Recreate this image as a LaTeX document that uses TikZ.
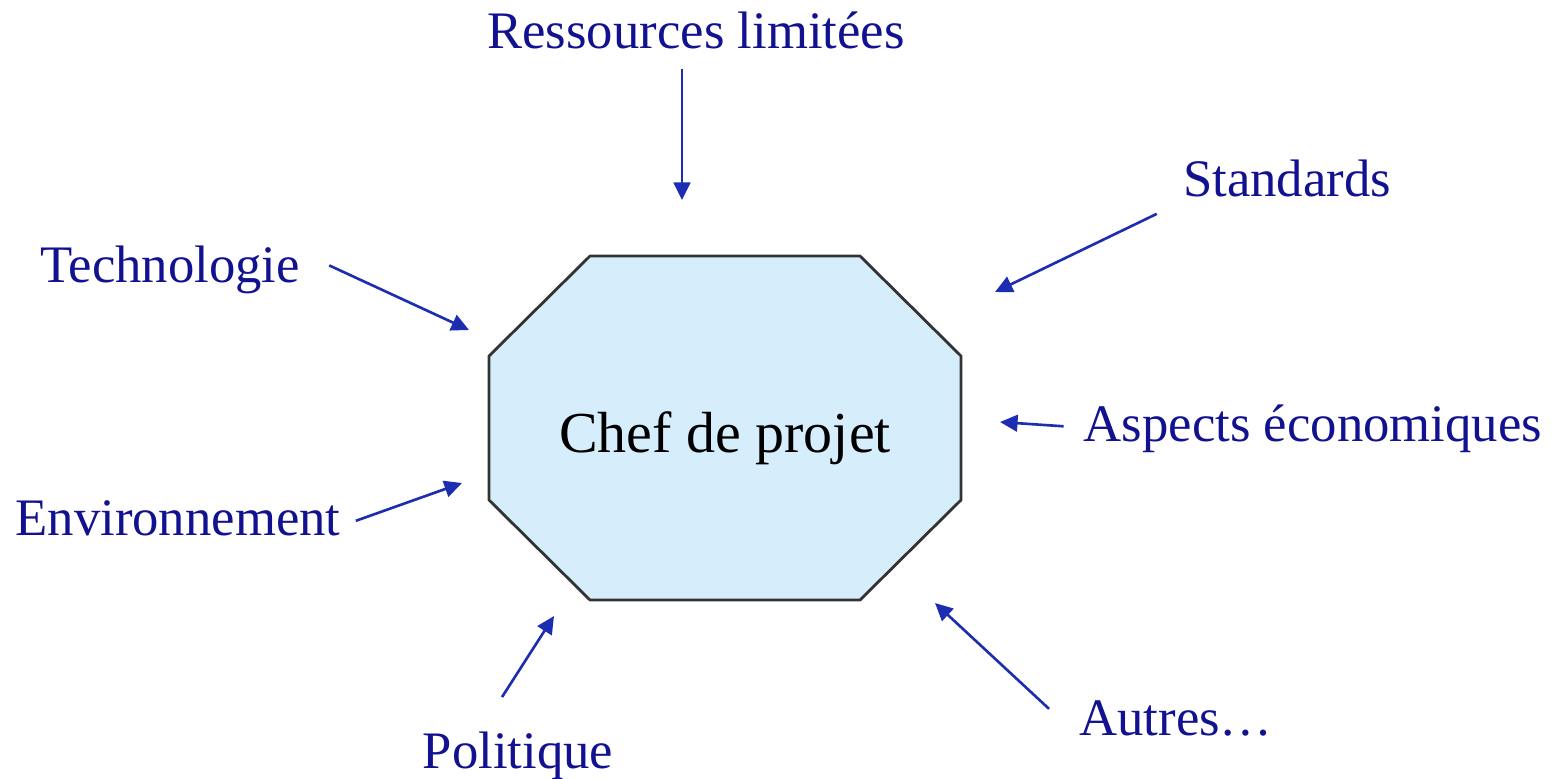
\documentclass[tikz,border=0pt]{standalone}
\usepackage{fontspec}
\setmainfont{Liberation Serif}
\usetikzlibrary{arrows.meta}
\definecolor{navy}{RGB}{18,18,145}
\definecolor{arrowblue}{RGB}{28,45,178}
\definecolor{paleblue}{RGB}{214,238,252}

\begin{document}
\begin{tikzpicture}[x=0.02cm,y=-0.02cm,
  factor/.style={text=navy,font=\fontsize{30}{32}\selectfont,inner sep=0pt,anchor=base},
  conn/.style={arrowblue,line width=1.5pt,-{Triangle[length=10pt,width=9.5pt]}}]
\useasboundingbox (0,0) rectangle (1561,778);
% octagon
\draw[line width=1.6pt,color=black!80,fill=paleblue,line join=round] (590,256)--(860,256)--(961,356)--(961,500)--(860,600)--(590,600)--(489,500)--(489,356)--cycle;
\node[anchor=base,inner sep=0pt,font=\fontsize{33}{36}\selectfont] (chef) at (725,452) {Chef de projet};
% factors
\node[factor] (res) at (696,48) {Ressources limitées};
\node[factor] (std) at (1287,196) {Standards};
\node[factor] (tech) at (170,282) {Technologie};
\node[factor] (eco) at (1313,441) {Aspects économiques};
\node[factor] (env) at (178,535) {Environnement};
\node[factor] (pol) at (518,768) {Politique};
\node[factor] (aut) at (1176,735) {Autres…};
% arrow tips near the octagon
\coordinate (res-in) at (682,200);
\coordinate (std-in) at (995,292);
\coordinate (tech-in) at (469,330);
\coordinate (eco-in) at (1000,422);
\coordinate (env-in) at (462,483);
\coordinate (pol-in) at (554,616);
\coordinate (aut-in) at (935,603);
\draw[conn] ([shift={(-14,20)}]res.south) -- (res-in);
\draw[conn] ([shift={(-26,17)}]std.south west) -- (std-in);
\draw[conn] ([shift={(29,-4)}]tech.east) -- (tech-in);
\draw[conn] ([shift={(-20,-2)}]eco.west) -- (eco-in);
\draw[conn] ([shift={(15,3)}]env.east) -- (env-in);
\draw[conn] ([shift={(-16,-34)}]pol.north) -- (pol-in);
\draw[conn] ([shift={(-30,9)}]aut.north west) -- (aut-in);
\end{tikzpicture}
\end{document}
